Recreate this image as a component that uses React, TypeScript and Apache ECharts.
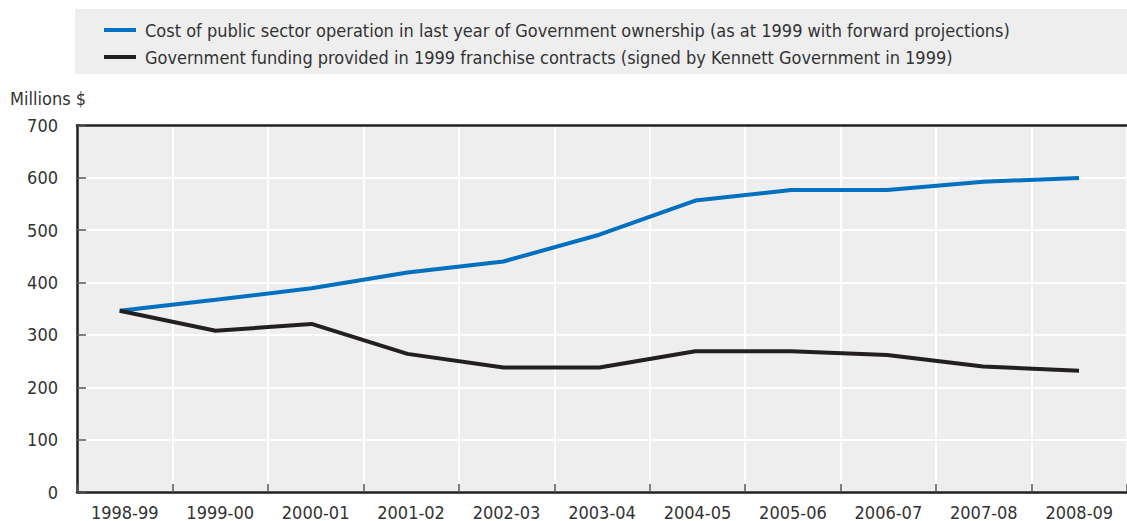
import React, { useEffect, useRef } from "react";
import * as echarts from "echarts";

const categories = [
  "1998-99", "1999-00", "2000-01", "2001-02", "2002-03", "2003-04",
  "2004-05", "2005-06", "2006-07", "2007-08", "2008-09",
];
const costPublic = [347, 368, 390, 420, 441, 492, 557, 577, 577, 593, 600];
const franchiseFunding = [347, 309, 322, 265, 239, 239, 270, 270, 263, 241, 233];
const seriesNames = [
  "Cost of public sector operation in last year of Government ownership (as at 1999 with forward projections)",
  "Government funding provided in 1999 franchise contracts (signed by Kennett Government in 1999)",
];
const yTicks = { min: 0, max: 700, interval: 100 };
const yAxisTitle = "Millions $";

const FONT = "'Liberation Sans Narrow', 'DejaVu Sans Condensed', 'Arial Narrow', sans-serif";
const FS = 18;
const TEXT = "#333333";
const DARK = "#231f20";
const BLUE = "#0070bf";

export default function App() {
  const ref = useRef<HTMLDivElement>(null);
  useEffect(() => {
    if (!ref.current) return;
    const chart = echarts.init(ref.current, undefined, { renderer: "svg" });
    const top = 125.5;
    const height = 367.5;
    const width = 1063;
    chart.setOption({
      animation: false,
      textStyle: { fontFamily: FONT },
      graphic: [
        {
          type: "rect",
          z: -10,
          shape: { x: 75, y: 9, width: 1052, height: 65 },
          style: { fill: "#eeeeee" },
        },
        {
          type: "text",
          x: 10,
          y: 98,
          style: {
            text: yAxisTitle,
            font: `${FS}px ${FONT}`,
            fill: TEXT,
            verticalAlign: "middle",
          },
        },
      ],
      legend: {
        orient: "vertical",
        left: 104,
        top: 21,
        padding: 0,
        itemWidth: 32,
        itemHeight: 4,
        itemGap: 9,
        icon: "rect",
        data: seriesNames,
        textStyle: { fontFamily: FONT, fontSize: FS, color: TEXT, lineHeight: 18, padding: [0, 0, 0, 4] },
      },
      grid: [
        {
          left: 77,
          top,
          width,
          height,
          show: true,
          backgroundColor: "#eeeeee",
          borderWidth: 0,
        },
        { left: 71.7, top, width, height, show: false },
      ],
      xAxis: [
        {
          type: "category",
          gridIndex: 0,
          data: categories,
          boundaryGap: true,
          axisLine: { show: true, lineStyle: { color: DARK, width: 2.5 } },
          axisTick: { show: true, inside: true, length: 8, lineStyle: { color: "#555555", width: 1.5 } },
          axisLabel: { color: TEXT, fontSize: FS, fontFamily: FONT, margin: 11, interval: 0 },
          splitLine: { show: true, lineStyle: { color: "#ffffff", width: 2 } },
          z: 3,
        },
        {
          type: "category",
          gridIndex: 0,
          position: "top",
          data: categories,
          axisLine: { show: true, lineStyle: { color: DARK, width: 2.5 } },
          axisTick: { show: false },
          axisLabel: { show: false },
          splitLine: { show: false },
          z: 3,
        },
        {
          type: "category",
          gridIndex: 1,
          data: categories,
          boundaryGap: true,
          show: false,
        },
      ],
      yAxis: [
        {
          type: "value",
          gridIndex: 0,
          min: yTicks.min,
          max: yTicks.max,
          interval: yTicks.interval,
          axisLine: { show: true, lineStyle: { color: DARK, width: 2.5 } },
          axisTick: { show: true, inside: true, length: 9, lineStyle: { color: "#555555", width: 1.5 } },
          axisLabel: { color: TEXT, fontSize: FS, fontFamily: FONT, margin: 19 },
          splitLine: { show: true, lineStyle: { color: "#ffffff", width: 2 } },
          z: 3,
        },
        {
          type: "value",
          gridIndex: 1,
          min: yTicks.min,
          max: yTicks.max,
          interval: yTicks.interval,
          show: false,
          splitLine: { show: false },
        },
      ],
      series: [
        {
          name: seriesNames[0],
          type: "line",
          xAxisIndex: 2,
          yAxisIndex: 1,
          data: costPublic,
          symbol: "none",
          lineStyle: { color: BLUE, width: 4 },
          itemStyle: { color: BLUE },
          z: 4,
        },
        {
          name: seriesNames[1],
          type: "line",
          xAxisIndex: 2,
          yAxisIndex: 1,
          data: franchiseFunding,
          symbol: "none",
          lineStyle: { color: DARK, width: 4 },
          itemStyle: { color: DARK },
          z: 4,
        },
      ],
    });
    return () => chart.dispose();
  }, []);
  return (
    <div
      ref={ref}
      style={{ position: "absolute", left: 0, top: 0, width: 1127, height: 521 }}
    />
  );
}
